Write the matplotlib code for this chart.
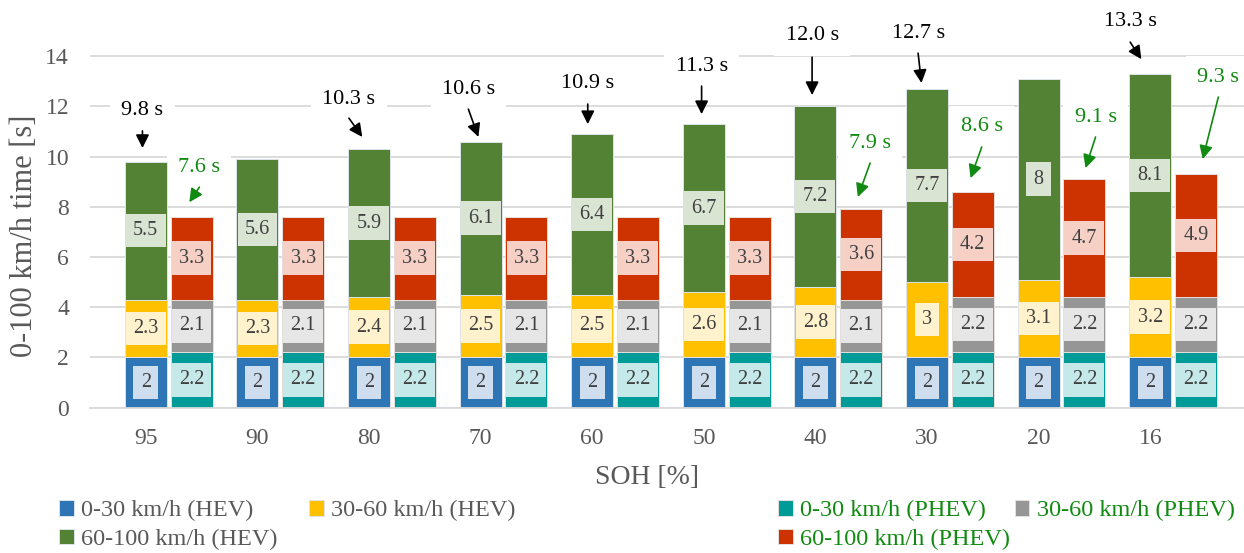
import numpy as np
import matplotlib
matplotlib.use('Agg')
import matplotlib.pyplot as plt

plt.rcParams['font.family'] = ['Liberation Serif', 'DejaVu Serif']

# data
soh = ['95', '90', '80', '70', '60', '50', '40', '30', '20', '16']
hev_0_30 = [2, 2, 2, 2, 2, 2, 2, 2, 2, 2]
hev_30_60 = [2.3, 2.3, 2.4, 2.5, 2.5, 2.6, 2.8, 3, 3.1, 3.2]
hev_60_100 = [5.5, 5.6, 5.9, 6.1, 6.4, 6.7, 7.2, 7.7, 8, 8.1]
phev_0_30 = [2.2, 2.2, 2.2, 2.2, 2.2, 2.2, 2.2, 2.2, 2.2, 2.2]
phev_30_60 = [2.1, 2.1, 2.1, 2.1, 2.1, 2.1, 2.1, 2.2, 2.2, 2.2]
phev_60_100 = [3.3, 3.3, 3.3, 3.3, 3.3, 3.3, 3.6, 4.2, 4.7, 4.9]

hev_names = ['0-30 km/h (HEV)', '30-60 km/h (HEV)', '60-100 km/h (HEV)']
phev_names = ['0-30 km/h (PHEV)', '30-60 km/h (PHEV)', '60-100 km/h (PHEV)']

# which totals get a callout (index of category)
hev_callouts = [0, 2, 3, 4, 5, 6, 7, 9]
phev_callouts = [0, 6, 7, 8, 9]

# callout layout: (text x, text y, tail y, head dx, head y) in data units
hev_callout_pos = [(-0.03, 11.85, 11.02, 0.0, 10.34),
                   (1.82, 12.29, 11.53, 0.12, 10.78),
                   (2.89, 12.69, 11.89, 0.09, 10.78),
                   (3.96, 12.93, 12.09, 0.0, 11.29),
                   (4.98, 13.60, 12.81, 0.0, 11.69),
                   (5.97, 14.84, 13.96, 0.0, 12.45),
                   (6.92, 14.92, 14.12, 0.03, 12.93),
                   (8.82, 15.40, 14.56, 0.10, 13.88)]
phev_callout_pos = [(0.48, 9.58, 8.78, -0.09, 8.18),
                    (6.49, 10.54, 9.74, -0.11, 8.39),
                    (7.49, 11.18, 10.38, -0.10, 9.14),
                    (8.51, 11.57, 10.78, -0.09, 9.54),
                    (9.61, 13.17, 12.37, -0.14, 9.90)]

hev_colors = ['#2E75B6', '#FFC000', '#548235']
phev_colors = ['#009B96', '#969696', '#CC3300']
hev_box = ['#CFDEEE', '#FFF2CC', '#D9E4D3']
phev_box = ['#C5E8E8', '#E6E6E6', '#F6CFC5']
green = '#118A11'
grey_txt = '#595959'

fig = plt.figure(figsize=(12.44, 5.53), dpi=100)
ax = fig.add_axes([90 / 1244, 145.5 / 553, 1154 / 1244, 401.5 / 553])

x = np.arange(len(soh))
w = 0.376
off = 0.41

hev = [hev_0_30, hev_30_60, hev_60_100]
phev = [phev_0_30, phev_30_60, phev_60_100]

handles_h = []
handles_p = []
bottom = np.zeros(len(soh))
for vals, col, bc, name in zip(hev, hev_colors, hev_box, hev_names):
    b = ax.bar(x, vals, w, bottom=bottom, color=col, edgecolor='#dde4ea',
               linewidth=0.7, zorder=2, label=name)
    handles_h.append(b)
    for xi, v, b0 in zip(x, vals, bottom):
        ax.text(xi, b0 + v / 2, f'{v:g}', ha='center', va='center', fontsize=14.5,
                color='#404040', zorder=4,
                bbox=dict(boxstyle='square,pad=0.36', fc=bc, ec='none'))
    bottom = bottom + np.array(vals)
hev_tot = bottom

bottom = np.zeros(len(soh))
for vals, col, bc, name in zip(phev, phev_colors, phev_box, phev_names):
    b = ax.bar(x + off, vals, w, bottom=bottom, color=col, edgecolor='#e6e0dc',
               linewidth=0.7, zorder=2, label=name)
    handles_p.append(b)
    for xi, v, b0 in zip(x + off, vals, bottom):
        ax.text(xi, b0 + v / 2, f'{v:g}', ha='center', va='center', fontsize=14.5,
                color='#404040', zorder=4,
                bbox=dict(boxstyle='square,pad=0.36', fc=bc, ec='none'))
    bottom = bottom + np.array(vals)
phev_tot = bottom

# callouts with arrows
for i, (tx, ty, tail, dx, hy) in zip(hev_callouts, hev_callout_pos):
    ax.text(tx, ty, f'{hev_tot[i]:.1f} s', ha='center', va='center', fontsize=16,
            color='black', zorder=1.5,
            bbox=dict(boxstyle='square,pad=0.5', fc='white', ec='none'))
    ax.annotate('', xy=(tx + dx, hy), xytext=(tx, tail), zorder=3,
                arrowprops=dict(arrowstyle='-|>', color='black', lw=1.2,
                                mutation_scale=20, shrinkA=0, shrinkB=0))
for i, (tx, ty, tail, dx, hy) in zip(phev_callouts, phev_callout_pos):
    ax.text(tx, ty, f'{phev_tot[i]:.1f} s', ha='center', va='center', fontsize=16,
            color=green, zorder=1.5,
            bbox=dict(boxstyle='square,pad=0.5', fc='white', ec='none'))
    ax.annotate('', xy=(tx + dx, hy), xytext=(tx, tail), zorder=3,
                arrowprops=dict(arrowstyle='-|>', color=green, lw=1.2,
                                mutation_scale=20, shrinkA=0, shrinkB=0))

ax.set_xlim(-0.5, 9.84)
ax.set_ylim(0, 16)
ax.set_yticks(np.arange(0, 15, 2))
ax.set_xticks(x)
ax.set_xticklabels(soh)
ax.tick_params(axis='both', length=0, labelsize=17, labelcolor=grey_txt)
ax.tick_params(axis='y', pad=15)
ax.tick_params(axis='x', pad=15)
ax.set_axisbelow(True)
ax.yaxis.grid(True, color='#d9d9d9', lw=1.3)
for s in ['top', 'right', 'left']:
    ax.spines[s].set_visible(False)
ax.spines['bottom'].set_color('#d9d9d9')
ax.spines['bottom'].set_linewidth(1.3)

fig.text(24 / 1244, 1 - 236 / 553, '0-100 km/h time [s]', rotation=90, ha='center',
         va='center', fontsize=22, color=grey_txt)
fig.text(647 / 1244, 1 - 478 / 553, 'SOH [%]', ha='center', va='center',
         fontsize=20, color=grey_txt)

# legends, row-major order
order = [0, 2, 1]
leg1 = fig.legend([handles_h[k] for k in order], [hev_names[k] for k in order],
                  loc='upper left', bbox_to_anchor=(47 / 1244, 1 - 488 / 553),
                  ncol=2, frameon=False, fontsize=17.5, handlelength=0.6,
                  handleheight=0.6, handletextpad=0.3, columnspacing=1.3,
                  labelspacing=0.3, borderpad=0, labelcolor=grey_txt)
leg2 = fig.legend([handles_p[k] for k in order], [phev_names[k] for k in order],
                  loc='upper left', bbox_to_anchor=(766 / 1244, 1 - 488 / 553),
                  ncol=2, frameon=False, fontsize=17.5, handlelength=0.6,
                  handleheight=0.6, handletextpad=0.3, columnspacing=0.2,
                  labelspacing=0.3, borderpad=0, labelcolor=green)

fig.savefig('out.png', dpi=100)
